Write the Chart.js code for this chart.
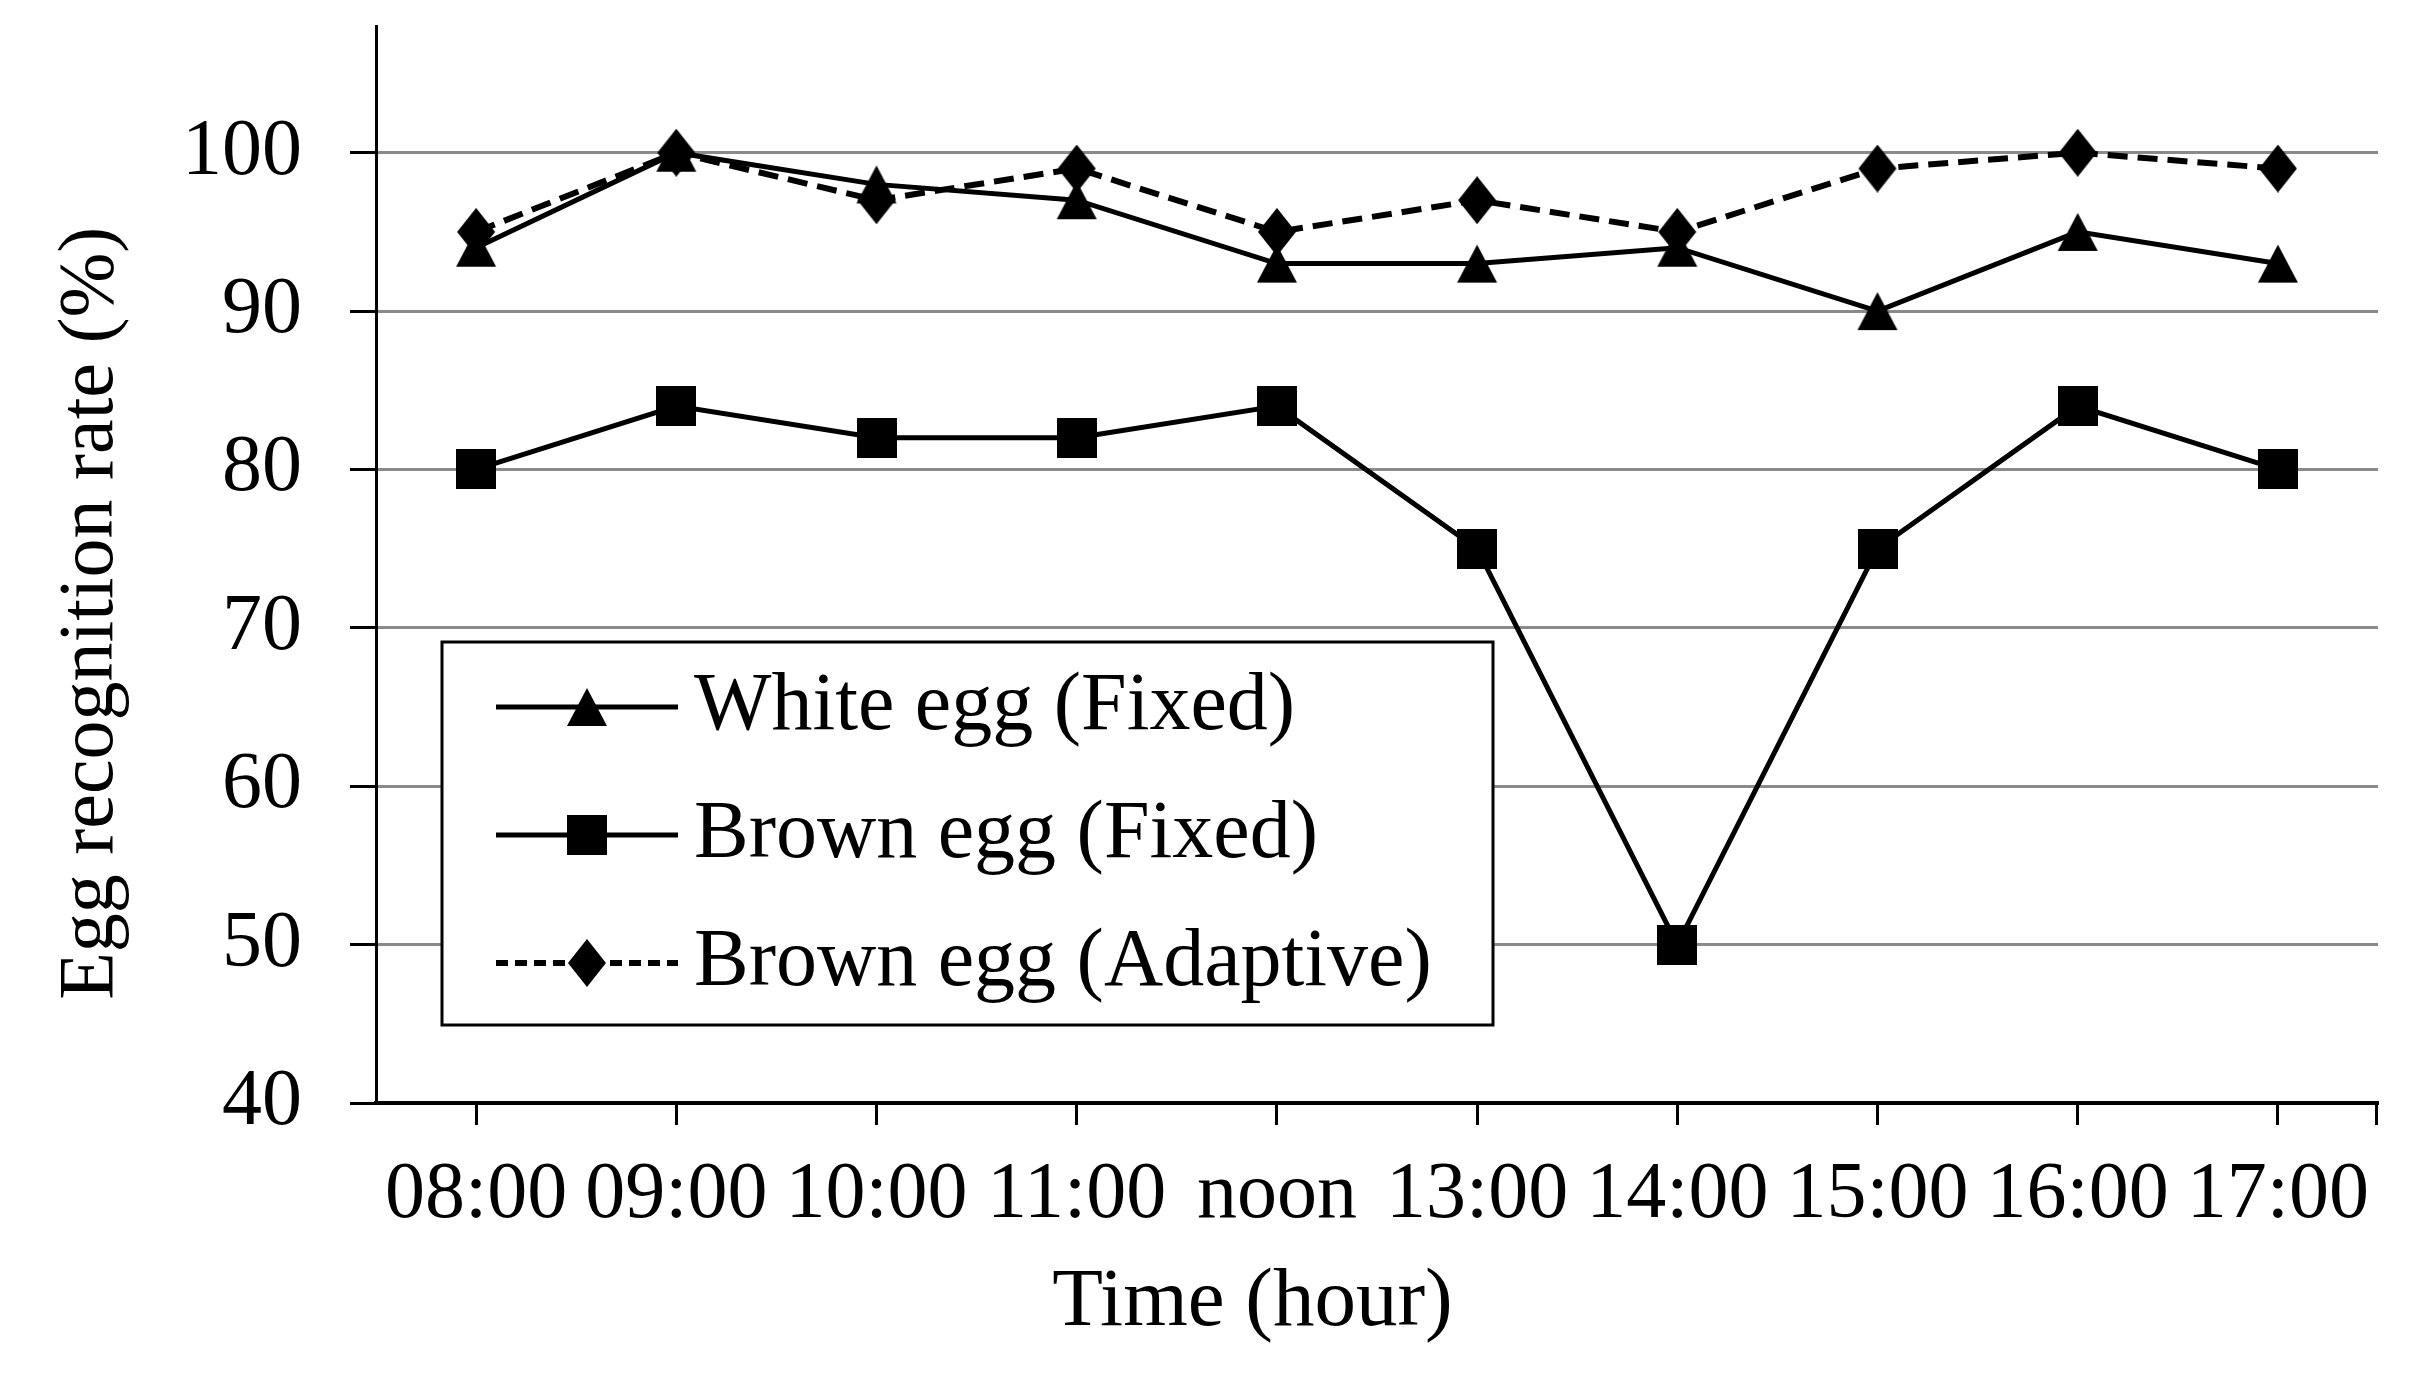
<!DOCTYPE html>
<html>
<head>
<meta charset="utf-8">
<title>Egg recognition rate</title>
<script src="https://cdn.jsdelivr.net/npm/chart.js@4.4.1/dist/chart.umd.min.js"></script>
<style>
  html, body { margin: 0; padding: 0; background: #fff; }
  #wrap { width: 2436px; height: 1384px; }
</style>
</head>
<body>
<div id="wrap"><canvas id="eggChart"></canvas></div>
<script>
// values
const times = ['08:00', '09:00', '10:00', '11:00', 'noon', '13:00', '14:00', '15:00', '16:00', '17:00'];
const whiteFixed = [94, 100, 98, 97, 93, 93, 94, 90, 95, 93];
const brownFixed = [80, 84, 82, 82, 84, 75, 50, 75, 84, 80];
const brownAdaptive = [95, 100, 97, 99, 95, 97, 95, 99, 100, 99];
const yTicks = [40, 50, 60, 70, 80, 90, 100];

const serif = "'Liberation Serif', 'Times New Roman', serif";

// small black marker images used as point styles
function marker(w, h, path) {
  const c = document.createElement('canvas');
  c.width = w;
  c.height = h;
  const g = c.getContext('2d');
  g.fillStyle = '#000';
  g.beginPath();
  path(g, w, h);
  g.closePath();
  g.fill();
  return c;
}
const triangle = marker(42, 40, (g, w, h) => { g.moveTo(w / 2, 1); g.lineTo(w - 1, h - 1); g.lineTo(1, h - 1); });
const square = marker(40, 40, (g, w, h) => { g.rect(0, 0, w, h); });
const diamond = marker(40, 48, (g, w, h) => { g.moveTo(w / 2, 0); g.lineTo(w - 1, h / 2); g.lineTo(w / 2, h); g.lineTo(1, h / 2); });

// boxed legend inside the plot, like the original figure
const boxLegend = {
  id: 'boxLegend',
  afterDraw(chart) {
    const ctx = chart.ctx;
    const box = { x: 442, y: 642, w: 1051, h: 383 };
    ctx.save();
    ctx.fillStyle = '#fff';
    ctx.fillRect(box.x, box.y, box.w, box.h);
    ctx.strokeStyle = '#000';
    ctx.lineWidth = 3;
    ctx.strokeRect(box.x, box.y, box.w, box.h);

    chart.data.datasets.forEach((ds, i) => {
      const y = box.y + 65 + i * 128;
      const x0 = box.x + 54, x1 = box.x + 236;
      ctx.beginPath();
      ctx.setLineDash(ds.legendDash || []);
      ctx.lineWidth = ds.borderWidth;
      ctx.strokeStyle = ds.borderColor;
      ctx.moveTo(x0, y);
      ctx.lineTo(x1, y);
      ctx.stroke();
      ctx.setLineDash([]);
      const img = ds.pointStyle;
      ctx.drawImage(img, (x0 + x1) / 2 - img.width / 2, y - img.height / 2);
      ctx.fillStyle = '#000';
      ctx.font = '82px ' + serif;
      ctx.textAlign = 'left';
      ctx.textBaseline = 'alphabetic';
      ctx.fillText(ds.label, box.x + 252, y + 22);
    });

    // closing tick mark at the right end of the x axis
    const { right, bottom } = chart.chartArea;
    ctx.beginPath();
    ctx.lineWidth = 3;
    ctx.moveTo(right - 1.5, bottom);
    ctx.lineTo(right - 1.5, bottom + 22);
    ctx.stroke();
    ctx.restore();
  }
};

new Chart(document.getElementById('eggChart'), {
  type: 'line',
  data: {
    labels: times,
    datasets: [
      {
        label: 'White egg (Fixed)',
        data: whiteFixed,
        borderColor: '#000',
        borderWidth: 5,
        pointStyle: triangle,
        pointRadius: 20
      },
      {
        label: 'Brown egg (Fixed)',
        data: brownFixed,
        borderColor: '#000',
        borderWidth: 5,
        pointStyle: square,
        pointRadius: 20
      },
      {
        label: 'Brown egg (Adaptive)',
        data: brownAdaptive,
        borderColor: '#000',
        borderWidth: 6,
        borderDash: [20, 10],
        legendDash: [12, 7],
        pointStyle: diamond,
        pointRadius: 20
      }
    ]
  },
  options: {
    responsive: true,
    maintainAspectRatio: false,
    devicePixelRatio: 1,
    animation: false,
    layout: { padding: { left: 43, right: 58, top: 25, bottom: 31 } },
    elements: { line: { tension: 0, fill: false } },
    plugins: {
      legend: { display: false },
      tooltip: { enabled: false }
    },
    scales: {
      x: {
        offset: true,
        grid: {
          offset: false,
          drawOnChartArea: false,
          tickLength: 22,
          tickColor: '#000',
          tickWidth: 3
        },
        border: { color: '#000', width: 4 },
        ticks: {
          color: '#000',
          font: { family: serif, size: 80 },
          padding: 23,
          autoSkip: false,
          maxRotation: 0
        },
        title: {
          display: true,
          // trailing spaces pull the centred title left, as in the original
          text: 'Time (hour)            ',
          color: '#000',
          font: { family: serif, size: 83 },
          padding: { top: 0, bottom: 0 }
        },
        afterFit(scale) {
          scale.height = 250;
          scale.paddingLeft = 0;
          scale.paddingRight = 0;
        }
      },
      y: {
        min: 40,
        max: 108,
        afterBuildTicks(scale) {
          scale.ticks = yTicks.map(v => ({ value: v }));
        },
        grid: {
          color: ctx => (ctx.tick && ctx.tick.value === 40 ? 'rgba(0,0,0,0)' : '#8a8a8a'),
          lineWidth: 3,
          tickLength: 26,
          tickColor: '#000',
          tickWidth: 3
        },
        border: { color: '#000', width: 3 },
        ticks: {
          color: '#000',
          font: { family: serif, size: 80 },
          padding: 48
        },
        title: {
          display: true,
          text: 'Egg recognition rate (%)     ',
          color: '#000',
          font: { family: serif, size: 78 },
          padding: { top: 2, bottom: 0 }
        },
        afterFit(scale) {
          scale.width = 333;
          scale.paddingTop = 0;
          scale.paddingBottom = 0;
        }
      }
    }
  },
  plugins: [boxLegend]
});
</script>
</body>
</html>
